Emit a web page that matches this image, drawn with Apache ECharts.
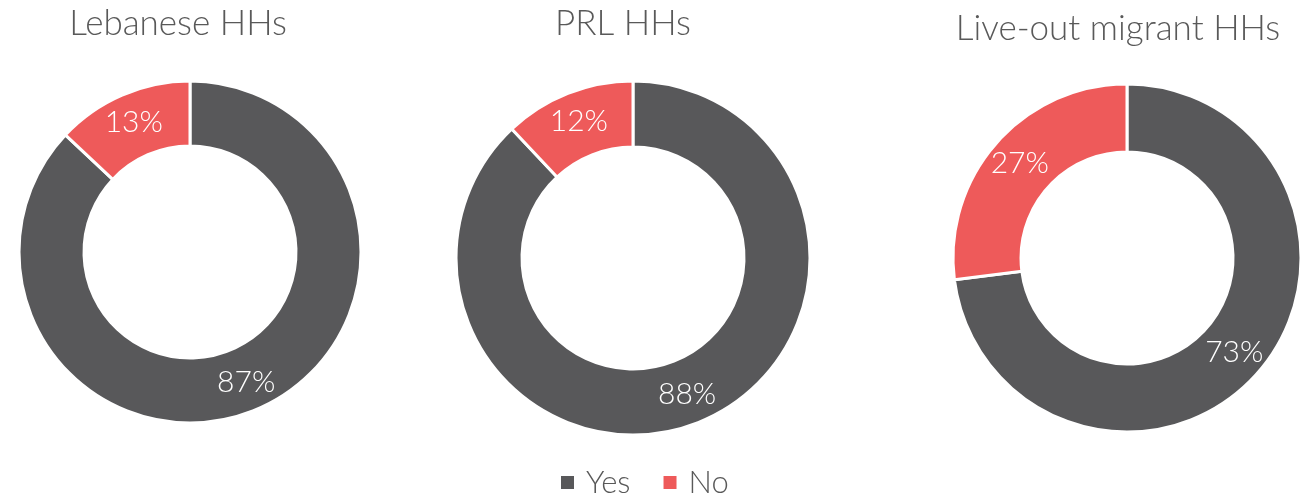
<!DOCTYPE html>
<html>
<head>
<meta charset="utf-8">
<style>
  html, body { margin: 0; padding: 0; background: #ffffff; }
  #chart { width: 1309px; height: 496px; }
</style>
<script src="https://cdn.jsdelivr.net/npm/echarts@6/dist/echarts.min.js"></script>
</head>
<body>
<div id="chart"></div>
<script>
// Share of households answering Yes / No, by household group
const groups = ['Lebanese HHs', 'PRL HHs', 'Live-out migrant HHs'];
const answers = ['Yes', 'No'];
const yesValues = [87, 88, 73];
const noValues = [13, 12, 27];

const colors = ['#58585a', '#ee5a5a'];
const fontFamily = '"Segoe UI", Lato, "Open Sans", sans-serif';

// Per-donut placement: [centerX, centerY, outerRadius, innerRadius, titleX, titleY]
const layout = [
  [190, 252, 171, 106, 178, 6],
  [633, 258, 177, 111, 623, 6],
  [1127, 258, 174, 106, 1118, 11]
];

const chart = echarts.init(document.getElementById('chart'), null, { renderer: 'canvas' });

const option = {
  backgroundColor: '#ffffff',
  color: colors,
  animation: false,
  title: groups.map((g, i) => ({
    text: g,
    left: layout[i][4],
    top: layout[i][5],
    textAlign: 'center',
    padding: 0,
    textStyle: {
      fontFamily: fontFamily,
      fontWeight: 300,
      fontSize: 35,
      color: '#595959'
    }
  })),
  legend: {
    data: answers,
    top: 467,
    left: 559,
    padding: 0,
    icon: 'rect',
    itemWidth: 15,
    itemHeight: 15,
    itemGap: 31,
    textStyle: {
      fontFamily: fontFamily,
      fontWeight: 300,
      fontSize: 31,
      lineHeight: 30,
      color: '#595959',
      padding: [0, 0, 0, 6]
    }
  },
  series: groups.map((g, i) => ({
    name: g,
    type: 'pie',
    center: [layout[i][0], layout[i][1]],
    radius: [layout[i][3], layout[i][2]],
    startAngle: 90,
    clockwise: true,
    silent: true,
    itemStyle: { borderColor: '#ffffff', borderWidth: 3 },
    label: {
      show: true,
      position: 'inside',
      formatter: '{c}%',
      color: '#ffffff',
      fontFamily: fontFamily,
      fontWeight: 300,
      fontSize: 30
    },
    labelLine: { show: false },
    data: [
      { name: answers[0], value: yesValues[i] },
      { name: answers[1], value: noValues[i] }
    ]
  }))
};

chart.setOption(option);
</script>
</body>
</html>
